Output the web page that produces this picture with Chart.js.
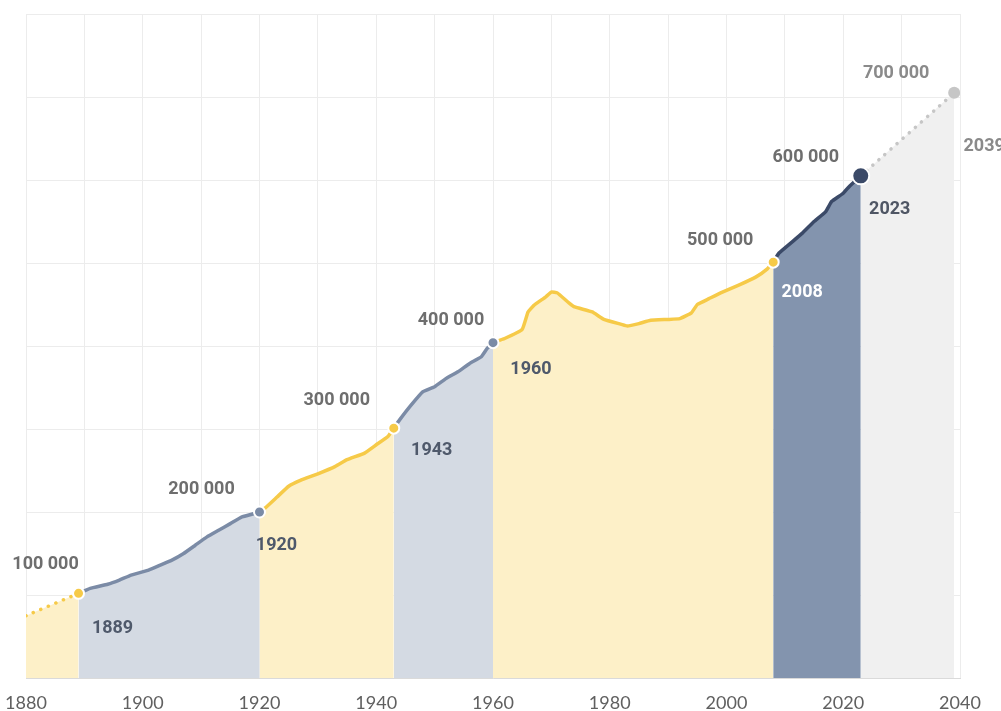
<!DOCTYPE html>
<html>
<head>
<meta charset="utf-8">
<script src="https://cdn.jsdelivr.net/npm/chart.js@4"></script>
<style>
  body { margin: 0; background: #fff; }
  #wrap { width: 1001px; height: 711px; position: relative; }
</style>
</head>
<body>
<div id="wrap"><canvas id="popChart"></canvas></div>
<script>
// population curve
const years = [1880, 1889, 1891, 1894, 1896, 1898, 1901, 1903, 1905, 1907, 1909, 1911, 1913, 1915, 1917,
  1920, 1921, 1923, 1925, 1927, 1930, 1933, 1935, 1938, 1940, 1942,
  1943, 1944, 1946, 1948, 1950, 1952, 1954, 1956, 1958, 1959,
  1960, 1962, 1965, 1966, 1967, 1969, 1970, 1971, 1973, 1974, 1977, 1979, 1982, 1983, 1985, 1987, 1990, 1992, 1994, 1995, 1997, 1999, 2002, 2005, 2007,
  2008, 2009, 2011, 2013, 2015, 2017, 2018, 2020, 2021,
  2023, 2039];
const population = [75000, 102000, 108000, 113000, 118000, 124000, 130000, 136000, 142000, 150000, 160000, 170000, 178000, 186000, 194000,
  200000, 205000, 218000, 231000, 238000, 246000, 255000, 263000, 271000, 281000, 291000,
  301000, 311000, 329000, 345000, 351000, 361000, 369000, 379000, 387000, 397000,
  404000, 409000, 420000, 441000, 449000, 459000, 465000, 464000, 452000, 447000, 441000, 432000, 426000, 424000, 427000, 431000, 432000, 433000, 440000, 450000, 457000, 464000, 473000, 483000, 493000,
  501000, 512000, 524000, 536000, 550000, 562000, 574000, 584000, 592000,
  605000, 705000];

// milestones (each 100 000 reached)
const milestoneYears = [1889, 1920, 1943, 1960, 2008, 2023, 2039];
const milestoneValues = [102000, 200000, 301000, 404000, 501000, 605000, 705000];
const milestoneLabels = ['100 000', '200 000', '300 000', '400 000', '500 000', '600 000', '700 000'];

const startYear = 1880;
const xTickLabels = [1880, 1900, 1920, 1940, 1960, 1980, 2000, 2020, 2040];

// styles
const YELLOW = '#f6ca48', YELLOW_FILL = '#fdf0c8';
const BLUE = '#7b8ba6', BLUE_FILL = '#d4dae3';
const DARK = '#3b4a68', DARK_FILL = '#8394ae';
const GREY = '#c6c6c6', GREY_FILL = '#f0f0f0';

const bandStyles = [
  { line: YELLOW, fill: YELLOW_FILL, dotted: true },
  { line: BLUE, fill: BLUE_FILL },
  { line: YELLOW, fill: YELLOW_FILL },
  { line: BLUE, fill: BLUE_FILL },
  { line: YELLOW, fill: YELLOW_FILL },
  { line: DARK, fill: DARK_FILL },
  { line: GREY, fill: GREY_FILL, dotted: true }
];
const pointColors = [YELLOW, BLUE, YELLOW, BLUE, YELLOW, DARK, GREY];
const pointSizes = [5.5, 5.5, 5.5, 5.5, 5.5, 8.5, 6];
const pointBorders = [2, 2, 2, 2, 2, 2, 0];
const valueColors = ['#6e6e6e', '#6e6e6e', '#6e6e6e', '#6e6e6e', '#6e6e6e', '#6e6e6e', '#8a8a8a'];
const yearColors = ['#4f596b', '#4f596b', '#4f596b', '#4f596b', '#ffffff', '#4f5664', '#8a8a8a'];
const valueOffsets = [[-33, -29], [-58, -23], [-57, -28], [-42, -22], [-53, -22], [-55, -18], [-58, -19]];
const yearOffsets = [[34, 35], [17, 33], [38, 22], [38, 27], [29, 30], [29, 34], [30, 54]];

//---------------------------------------------------------------
const points = years.map((yr, i) => ({ x: yr, y: population[i] }));
const bandStarts = [startYear, ...milestoneYears.slice(0, -1)];

const datasets = [];
// milestone dots go first so they are drawn on top
datasets.push({
  type: 'scatter',
  data: milestoneYears.map((yr, i) => ({ x: yr, y: milestoneValues[i] })),
  pointRadius: pointSizes,
  pointBackgroundColor: pointColors,
  pointBorderColor: '#ffffff',
  pointBorderWidth: pointBorders,
  showLine: false
});

bandStarts.forEach((start, i) => {
  const end = milestoneYears[i];
  const st = bandStyles[i];
  datasets.push({
    type: 'line',
    data: points.filter(p => p.x >= start && p.x <= end),
    borderColor: st.line,
    backgroundColor: st.fill,
    borderWidth: 3.5,
    borderDash: st.dotted ? [0.1, 8] : [],
    borderCapStyle: 'round',
    borderJoinStyle: 'round',
    fill: 'origin',
    pointRadius: 0,
    tension: 0.1
  });
});

const labelPlugin = {
  id: 'milestoneLabels',
  afterDatasetsDraw(chart) {
    const { ctx, scales: { x, y } } = chart;
    ctx.save();
    ctx.font = 'bold 18px Roboto, "DejaVu Sans", sans-serif';
    ctx.textAlign = 'center';
    ctx.textBaseline = 'middle';
    milestoneYears.forEach((yr, i) => {
      const px = x.getPixelForValue(yr);
      const py = y.getPixelForValue(milestoneValues[i]);
      ctx.fillStyle = valueColors[i];
      ctx.fillText(milestoneLabels[i], px + valueOffsets[i][0], py + valueOffsets[i][1]);
      ctx.fillStyle = yearColors[i];
      ctx.fillText(String(yr), px + yearOffsets[i][0], py + yearOffsets[i][1]);
    });
    ctx.restore();
  }
};

new Chart('popChart', {
  data: { datasets: datasets },
  options: {
    responsive: true,
    maintainAspectRatio: false,
    animation: false,
    layout: { padding: { left: 26, right: 41, top: 14, bottom: 0 } },
    plugins: {
      legend: { display: false },
      tooltip: { enabled: false },
      filler: { drawTime: 'beforeDatasetsDraw', propagate: false }
    },
    scales: {
      x: {
        type: 'linear',
        min: 1880,
        max: 2040,
        grid: { color: '#ececec', drawTicks: false },
        border: { color: '#dadada' },
        ticks: {
          stepSize: 10,
          autoSkip: false,
          maxRotation: 0,
          padding: 14,
          color: '#606060',
          font: { family: 'Lato, "Open Sans", sans-serif', size: 18, weight: 400 },
          callback: v => xTickLabels.includes(v) ? String(v) : ''
        },
        afterFit: s => { s.height = 33; s.paddingLeft = 0; s.paddingRight = 0; }
      },
      y: {
        min: 0,
        max: 800000,
        grid: { color: '#ececec', drawTicks: false },
        border: { display: false },
        ticks: { stepSize: 100000, display: false },
        afterFit: s => { s.width = 0; s.paddingTop = 0; s.paddingBottom = 0; }
      }
    }
  },
  plugins: [labelPlugin]
});
</script>
</body>
</html>
